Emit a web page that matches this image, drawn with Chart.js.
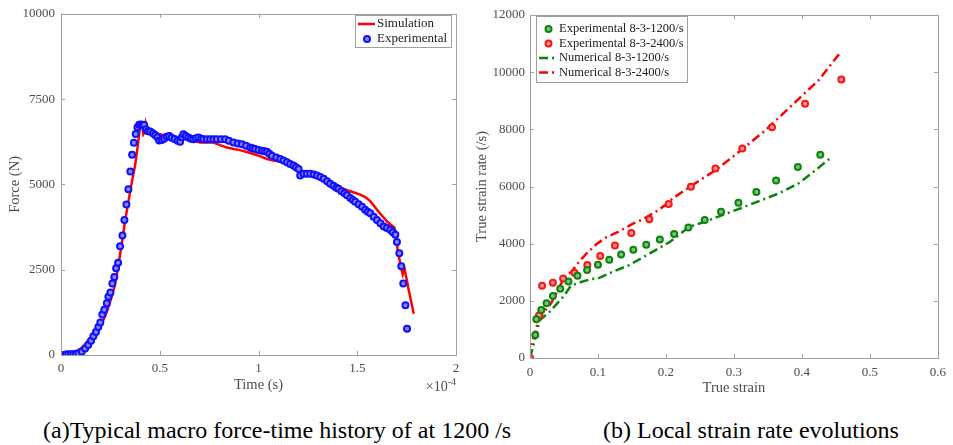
<!DOCTYPE html>
<html>
<head>
<meta charset="utf-8">
<script src="https://cdn.jsdelivr.net/npm/chart.js@4"></script>
<style>
  body { margin: 0; background: #fff; width: 953px; height: 445px; position: relative; overflow: hidden; font-family: "Liberation Serif", serif; }
  .box { position: absolute; top: 0; height: 400px; }
  #leftBox { left: 0; width: 470px; }
  #rightBox { left: 470px; width: 483px; }
  .caption { position: absolute; top: 416px; line-height: 28px; font-size: 24px; color: #000; white-space: nowrap; }
</style>
</head>
<body>
<div class="box" id="leftBox"><canvas id="forceChart"></canvas></div>
<div class="box" id="rightBox"><canvas id="rateChart"></canvas></div>
<div class="caption" style="left:43px">(a)Typical macro force-time history of at 1200 /s</div>
<div class="caption" style="left:603px">(b) Local strain rate evolutions</div>

<script>
// ---- (a) force - time, time in units of 1e-4 s ----
const forceXTicks = [0, 0.5, 1, 1.5, 2];
const forceYTicks = [0, 2500, 5000, 7500, 10000];

const expTime = [0.012, 0.025, 0.037, 0.05, 0.062, 0.075, 0.088, 0.105, 0.122, 0.138, 0.152, 0.164, 0.177, 0.189, 0.199,
    0.209, 0.219, 0.232, 0.24, 0.25, 0.26, 0.27, 0.279, 0.289, 0.299, 0.311, 0.321, 0.331, 0.341, 0.351, 0.36, 0.369,
    0.378, 0.387, 0.396, 0.404, 0.412, 0.421, 0.43, 0.44, 0.452, 0.465, 0.477, 0.488, 0.497, 0.51, 0.522, 0.535, 0.548,
    0.56, 0.575, 0.59, 0.603, 0.612, 0.62, 0.632, 0.645, 0.658, 0.67, 0.683, 0.696, 0.71, 0.721, 0.738, 0.755, 0.772,
    0.789, 0.81, 0.831, 0.85, 0.873, 0.895, 0.916, 0.937, 0.958, 0.97, 0.983, 1.0, 1.017, 1.03, 1.043, 1.055, 1.068,
    1.09, 1.11, 1.127, 1.144, 1.16, 1.177, 1.19, 1.203, 1.211, 1.228, 1.245, 1.262, 1.28, 1.296, 1.313, 1.33, 1.347,
    1.363, 1.38, 1.394, 1.405, 1.42, 1.435, 1.448, 1.465, 1.478, 1.49, 1.507, 1.524, 1.54, 1.553, 1.566, 1.583, 1.6,
    1.617, 1.634, 1.65, 1.667, 1.68, 1.693, 1.701, 1.713, 1.723, 1.733, 1.744, 1.752];
const expForce = [0, 15, 20, 25, 20, 35, 48, 96, 193, 290, 415, 550, 676, 820, 956,
    1188, 1323, 1516, 1709, 1834, 2095, 2289, 2540, 2703, 3187, 3505, 3960, 4412, 4858, 5380, 5870, 6218,
    6480, 6673, 6745, 6759, 6750, 6740, 6620, 6560, 6547, 6500, 6450, 6380, 6290, 6300, 6340, 6400, 6420,
    6370, 6330, 6280, 6249, 6380, 6469, 6420, 6373, 6340, 6325, 6350, 6373, 6340, 6325, 6325, 6325, 6320,
    6325, 6320, 6325, 6280, 6228, 6200, 6180, 6130, 6083, 6060, 6035, 6010, 5986, 5970, 5957, 5900, 5842,
    5790, 5745, 5700, 5649, 5600, 5553, 5500, 5455, 5263, 5310, 5310, 5310, 5290, 5263, 5220, 5165, 5090,
    5020, 4960, 4900, 4876, 4800, 4740, 4684, 4600, 4540, 4490, 4420, 4345, 4260, 4200, 4151, 4050, 3960,
    3860, 3766, 3720, 3670, 3600, 3525, 3311, 2984, 2598, 2095, 1457, 773];

const simTime = [0, 0.05, 0.071, 0.09, 0.105, 0.12, 0.138, 0.155, 0.172, 0.19, 0.206, 0.224, 0.24, 0.257, 0.274, 0.287,
    0.299, 0.312, 0.324, 0.337, 0.35, 0.362, 0.375, 0.388, 0.4, 0.406, 0.412, 0.417, 0.422, 0.429, 0.434, 0.451, 0.475,
    0.502, 0.535, 0.569, 0.6, 0.637, 0.67, 0.704, 0.74, 0.772, 0.805, 0.84, 0.875, 0.907, 0.94, 0.975, 1.01, 1.043,
    1.075, 1.11, 1.145, 1.177, 1.2, 1.228, 1.26, 1.296, 1.338, 1.38, 1.42, 1.448, 1.48, 1.515, 1.54, 1.566, 1.59, 1.608,
    1.63, 1.651, 1.67, 1.688, 1.698, 1.705, 1.712, 1.718, 1.724, 1.73, 1.735, 1.74, 1.746, 1.752, 1.758, 1.765, 1.772,
    1.779, 1.786];
const simForce = [30, 40, 67, 150, 212, 300, 435, 520, 580, 740, 918, 1150, 1400, 1720, 2077, 2500,
    2946, 3430, 3911, 4350, 4780, 5170, 5553, 6100, 6663, 6700, 6712, 6470, 6518, 6808, 6712, 6567, 6500,
    6470, 6420, 6373, 6340, 6325, 6280, 6228, 6230, 6228, 6150, 6083, 6040, 6005, 5950, 5890, 5820, 5745,
    5700, 5669, 5590, 5504, 5430, 5359, 5300, 5263, 5140, 5020, 4900, 4829, 4770, 4702, 4630, 4510, 4330, 4200,
    4050, 3911, 3820, 3737, 3476, 3042, 2850, 2656, 2500, 2367, 2480, 2512, 2330, 2173, 1980, 1787, 1590,
    1399, 1208];

// ---- (b) strain rate - strain ----
const rateXTicks = [0, 0.1, 0.2, 0.3, 0.4, 0.5, 0.6];
const rateYTicks = [0, 2000, 4000, 6000, 8000, 10000, 12000];

const exp1200Strain = [0.0078, 0.0093, 0.0166, 0.0244, 0.0337, 0.0444, 0.0566, 0.0698, 0.084, 0.1, 0.1166, 0.134,
    0.152, 0.171, 0.191, 0.212, 0.233, 0.257, 0.281, 0.3066, 0.333, 0.362, 0.394, 0.427];
const exp1200Rate = [804, 1353, 1678, 1912, 2168, 2424, 2680, 2878, 3077, 3263, 3438, 3624,
    3788, 3963, 4149, 4335, 4569, 4825, 5117, 5431, 5804, 6213, 6678, 7108];

const exp2400Strain = [0, 0.0132, 0.0178, 0.0337, 0.0488, 0.0654, 0.0843, 0.1033, 0.125, 0.149, 0.1755, 0.204,
    0.2367, 0.2728, 0.3123, 0.356, 0.4046, 0.458];
const exp2400Rate = [0, 1485, 2528, 2634, 2780, 2983, 3258, 3572, 3940, 4370, 4850, 5390,
    5990, 6632, 7332, 8077, 8892, 9744];

const num1200Strain = [0, 0.0078, 0.0146, 0.029, 0.049, 0.06, 0.075, 0.09, 0.1, 0.122, 0.146, 0.1757, 0.205, 0.234,
    0.2635, 0.283, 0.3026, 0.322, 0.366, 0.395, 0.42, 0.4415];
const num1200Rate = [0, 700, 1329, 1620, 2145, 2520, 2660, 2760, 2786, 3018, 3252, 3650, 4050, 4580,
    4825, 5000, 5175, 5350, 5758, 6108, 6573, 6983];

const num2400Strain = [0, 0.005, 0.0146, 0.031, 0.049, 0.063, 0.073, 0.083, 0.0976, 0.112, 0.132, 0.15, 0.166, 0.185,
    0.2026, 0.21, 0.239, 0.273, 0.3075, 0.3465, 0.3855, 0.4246, 0.456];
const num2400Rate = [0, 745, 1444, 1911, 2751, 3077, 3392, 3650, 3980, 4220, 4440, 4680, 4850, 5117,
    5409, 5584, 6049, 6573, 7213, 7972, 8846, 9720, 10675];

const serif = "'Liberation Serif', 'Times New Roman', serif";
const textGrey = "#4d4d4d";
const axisGrey = "#a0a0a0";

function pts(xs, ys) {
    return xs.map((x, i) => ({ x: x, y: ys[i] }));
}

// box, inward ticks, legend and exponent label, like a MATLAB axes
const matlabAxes = {
    id: "matlabAxes",
    afterDraw(chart, args, opts) {
        const ctx = chart.ctx;
        const a = chart.chartArea;
        const sx = chart.scales.x, sy = chart.scales.y;
        ctx.save();
        ctx.strokeStyle = axisGrey;
        ctx.lineWidth = 1;
        ctx.strokeRect(Math.round(a.left) + 0.5, Math.round(a.top) + 0.5,
            Math.round(a.right - a.left), Math.round(a.bottom - a.top));
        ctx.beginPath();
        sx.ticks.forEach(t => {
            const p = Math.round(sx.getPixelForValue(t.value)) + 0.5;
            ctx.moveTo(p, a.bottom); ctx.lineTo(p, a.bottom - 4);
            ctx.moveTo(p, a.top); ctx.lineTo(p, a.top + 4);
        });
        sy.ticks.forEach(t => {
            const p = Math.round(sy.getPixelForValue(t.value)) + 0.5;
            ctx.moveTo(a.left, p); ctx.lineTo(a.left + 4, p);
            ctx.moveTo(a.right, p); ctx.lineTo(a.right - 4, p);
        });
        ctx.stroke();

        if (opts.exponent) {
            ctx.fillStyle = textGrey;
            ctx.textBaseline = "alphabetic";
            ctx.textAlign = "right";
            ctx.font = "10px " + serif;
            ctx.fillText("-4", a.right, a.bottom + 30);
            const w = ctx.measureText("-4").width;
            ctx.font = "14px " + serif;
            ctx.fillText("\u00d710", a.right - w, a.bottom + 36);
        }

        const lg = opts.legend;
        if (lg) {
            ctx.fillStyle = "#fff";
            ctx.fillRect(lg.x, lg.y, lg.w, lg.h);
            ctx.strokeStyle = axisGrey;
            ctx.strokeRect(lg.x + 0.5, lg.y + 0.5, lg.w, lg.h);
            ctx.font = lg.size + "px " + serif;
            ctx.textBaseline = "middle";
            ctx.textAlign = "left";
            lg.order.forEach((di, row) => {
                const ds = chart.data.datasets[di];
                const cy = lg.y + lg.first + row * lg.rowH;
                if (ds.showLine) {
                    ctx.save();
                    ctx.strokeStyle = ds.borderColor;
                    ctx.lineWidth = ds.borderWidth;
                    ctx.setLineDash(ds.borderDash || []);
                    ctx.beginPath();
                    ctx.moveTo(lg.x + 3, cy);
                    ctx.lineTo(lg.x + lg.textX - 2, cy);
                    ctx.stroke();
                    ctx.restore();
                } else {
                    ctx.beginPath();
                    ctx.arc(lg.x + lg.textX / 2 + 1, cy, ds.pointRadius, 0, Math.PI * 2);
                    ctx.fillStyle = ds.backgroundColor;
                    ctx.fill();
                    ctx.lineWidth = ds.borderWidth;
                    ctx.strokeStyle = ds.borderColor;
                    ctx.stroke();
                }
                ctx.fillStyle = "#222";
                ctx.fillText(ds.label, lg.x + lg.textX, cy);
            });
        }
        ctx.restore();
    }
};

function axisOptions(ticksArr, min, max, size, isX, title, titleSize, titlePad, tickPad) {
    return {
        type: "linear",
        position: isX ? "bottom" : "left",
        min: min,
        max: max,
        afterBuildTicks: s => { s.ticks = ticksArr.map(v => ({ value: v })); },
        afterFit: s => { if (isX) s.height = size; else s.width = size; },
        grid: { display: false, drawTicks: false },
        border: { display: false },
        ticks: {
            color: textGrey,
            padding: tickPad,
            font: { family: serif, size: 13 },
            maxRotation: 0,
            autoSkip: false,
            callback: v => String(v)
        },
        title: {
            display: true,
            text: title,
            color: textGrey,
            font: { family: serif, size: titleSize },
            padding: titlePad
        }
    };
}

const forceChart = new Chart(document.getElementById("forceChart"), {
    type: "scatter",
    data: {
        datasets: [{
            label: "Simulation",
            data: pts(simTime, simForce),
            showLine: true,
            borderColor: "#ff0000",
            borderWidth: 2.5,
            pointRadius: 0,
            order: 1
        }, {
            label: "Experimental",
            data: pts(expTime, expForce),
            borderColor: "#1010ff",
            backgroundColor: "#8888ff",
            borderWidth: 2,
            pointRadius: 3,
            order: 0
        }]
    },
    options: {
        responsive: true,
        maintainAspectRatio: false,
        animation: false,
        layout: { padding: { left: 0, right: 14, top: 10, bottom: 0 } },
        plugins: {
            legend: { display: false },
            tooltip: { enabled: false },
            matlabAxes: {
                exponent: true,
                legend: { x: 355, y: 15, w: 96, h: 32, first: 9, rowH: 15, textX: 22, size: 13, order: [0, 1] }
            }
        },
        scales: {
            x: axisOptions(forceXTicks, 0, 2, 45, true, "Time (s)", 14.5, { top: 0, bottom: 6 }, 6),
            y: axisOptions(forceYTicks, 0, 10000, 61, false, "Force (N)", 14.5, { top: 6, bottom: 0 }, 6)
        }
    },
    plugins: [matlabAxes]
});

const rateChart = new Chart(document.getElementById("rateChart"), {
    type: "scatter",
    data: {
        datasets: [{
            label: "Experimental 8-3-1200/s",
            data: pts(exp1200Strain, exp1200Rate),
            borderColor: "#0b840b",
            backgroundColor: "#7fbf7f",
            borderWidth: 2,
            pointRadius: 3,
            order: 0
        }, {
            label: "Experimental 8-3-2400/s",
            data: pts(exp2400Strain, exp2400Rate),
            borderColor: "#ff1414",
            backgroundColor: "#ff9a9a",
            borderWidth: 2,
            pointRadius: 3,
            order: 0
        }, {
            label: "Numerical 8-3-1200/s",
            data: pts(num1200Strain, num1200Rate),
            showLine: true,
            borderColor: "#0b840b",
            borderWidth: 2.5,
            borderDash: [9, 4, 2, 4],
            pointRadius: 0,
            order: 1
        }, {
            label: "Numerical 8-3-2400/s",
            data: pts(num2400Strain, num2400Rate),
            showLine: true,
            borderColor: "#ff0000",
            borderWidth: 2.5,
            borderDash: [9, 4, 2, 4],
            pointRadius: 0,
            order: 1
        }]
    },
    options: {
        responsive: true,
        maintainAspectRatio: false,
        animation: false,
        layout: { padding: { left: 0, right: 13, top: 15, bottom: 0 } },
        plugins: {
            legend: { display: false },
            tooltip: { enabled: false },
            matlabAxes: {
                exponent: false,
                legend: { x: 66, y: 16, w: 151, h: 66, first: 13, rowH: 14.5, textX: 23, size: 12.5, order: [0, 1, 2, 3] }
            }
        },
        scales: {
            x: axisOptions(rateXTicks, 0, 0.6, 42, true, "True strain", 14.5, { top: 0, bottom: 3 }, 7),
            y: axisOptions(rateYTicks, 0, 12000, 60, false, "True strain rate (/s)", 14.5, { top: 3, bottom: 0 }, 5)
        }
    },
    plugins: [matlabAxes]
});
</script>
</body>
</html>
